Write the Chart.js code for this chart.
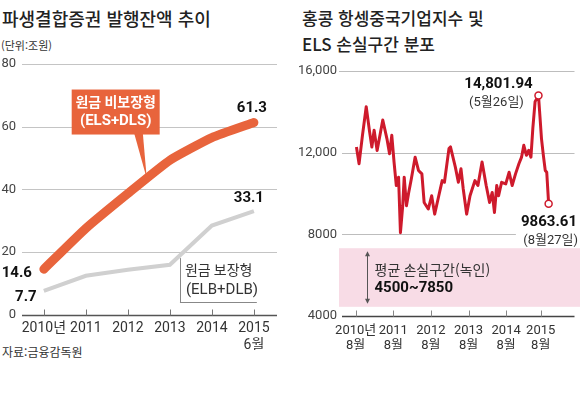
<!DOCTYPE html>
<html lang="ko">
<head>
<meta charset="utf-8">
<script src="https://cdn.jsdelivr.net/npm/chart.js@4.4.1/dist/chart.umd.min.js"></script>
<style>
  html, body { margin: 0; padding: 0; background: #fff; }
  body { width: 580px; height: 408px; position: relative; overflow: hidden; font-family: "Noto Sans CJK KR", sans-serif; color: #222; }
  .txt { position: absolute; white-space: nowrap; }
  canvas { position: absolute; }
</style>
</head>
<body>
<div class="txt" style="left:2px;top:5px;font-size:18px;font-weight:500;">파생결합증권 발행잔액 추이</div>
<div class="txt" style="left:1px;top:37px;font-size:11px;color:#333;">(단위:조원)</div>
<div class="txt" style="left:2px;top:343px;font-size:12px;color:#333;">자료:금융감독원</div>
<div class="txt" style="left:302px;top:5px;font-size:17px;font-weight:500;line-height:26px;">홍콩 항셍중국기업지수 및<br>ELS 손실구간 분포</div>
<canvas id="chartL" width="290" height="300" style="left:0;top:50px;"></canvas>
<canvas id="chartR" width="290" height="300" style="left:290px;top:50px;"></canvas>
<script>
// 왼쪽: 파생결합증권 발행잔액 (조원)
const YEARS = ['2010년', '2011', '2012', '2013', '2014', ['2015', '6월']];
const NON_PROTECTED = [14.6, 27.6, 38.7, 49.3, 56.5, 61.3];   // 원금 비보장형 (ELS+DLS)
const PROTECTED = [7.7, 12.5, 14.4, 16.0, 28.5, 33.1];        // 원금 보장형 (ELB+DLB)

// 오른쪽: 홍콩 항셍중국기업지수 (연 단위 소수)
const HSCEI_X = [
  2010.62, 2010.69, 2010.78, 2010.88, 2010.97, 2011.03, 2011.09, 2011.17, 2011.32, 2011.43,
  2011.50, 2011.56, 2011.62, 2011.68, 2011.74, 2011.79, 2011.85, 2011.89, 2011.95, 2012.01,
  2012.08, 2012.18, 2012.27, 2012.36, 2012.42, 2012.53, 2012.62, 2012.70, 2012.79, 2012.90,
  2012.96, 2013.08, 2013.12, 2013.25, 2013.33, 2013.40, 2013.46, 2013.55, 2013.64, 2013.77,
  2013.85, 2013.96, 2014.07, 2014.16, 2014.23, 2014.29, 2014.35, 2014.40, 2014.48, 2014.59,
  2014.68, 2014.76, 2014.85, 2014.94, 2015.01, 2015.07, 2015.14, 2015.20, 2015.26, 2015.31,
  2015.37, 2015.46, 2015.50, 2015.54, 2015.59, 2015.64, 2015.68, 2015.73
];
const HSCEI_Y = [
  12280, 11460, 12850, 14250, 13020, 12280, 13100, 12110, 13600, 12690,
  11950, 12850, 11540, 10390, 10800, 8080, 9400, 10800, 9400, 10050,
  10720, 11780, 11130, 10960, 9560, 9240, 9890, 8990, 9730, 10630,
  10550, 12200, 12280, 11290, 10550, 11210, 10220, 8990, 9890, 10630,
  10390, 11540, 10390, 9560, 10050, 9070, 10390, 9890, 10550, 10470,
  11040, 10390, 10960, 11460, 11780, 12360, 11870, 12110, 11780, 13190,
  14500, 14802, 13760, 12690, 11870, 11130, 11040, 9500
];
const X_TICKS_R = [2010.6, 2011.6, 2012.6, 2013.6, 2014.6, 2015.52];
const X_LABELS_R = [['2010년', '8월'], ['2011', '8월'], ['2012', '8월'], ['2013', '8월'], ['2014', '8월'], ['2015', '8월']];
const Y_TICKS_R = [4000, 8000, 12000, 16000];
const KNOCK_IN_BAND = [4450, 7320];  // 분홍 띠 (평균 손실구간)
const PEAK_IDX = HSCEI_Y.indexOf(Math.max(...HSCEI_Y));
const LAST_IDX = HSCEI_Y.length - 1;

const FONT = '"Liberation Sans Narrow", Roboto, "Noto Sans CJK KR", sans-serif';
const KFONT = '"Noto Sans CJK KR", sans-serif';
const ORANGE = '#E8643C';
const GREY_LINE = '#D0D0D0';
const RED = '#CE1A2C';

function line(ctx, x1, y1, x2, y2) {
  ctx.beginPath(); ctx.moveTo(x1, y1); ctx.lineTo(x2, y2); ctx.stroke();
}
function text(ctx, s, x, y, font, color, align) {
  ctx.font = font; ctx.fillStyle = color; ctx.textAlign = align || 'center'; ctx.textBaseline = 'middle';
  ctx.fillText(s, x, y);
}

const leftDecor = {
  id: 'leftDecor',
  beforeDatasetsDraw(chart) {
    const { ctx, chartArea: { left, right }, scales: { x, y } } = chart;
    ctx.save();
    ctx.strokeStyle = '#c4c4c4'; ctx.lineWidth = 1;
    [20, 40, 60, 80].forEach(v => {
      const py = Math.round(y.getPixelForValue(v)) + 0.5;
      line(ctx, left, py, right, py);
    });
    const y0 = Math.round(y.getPixelForValue(0)) + 0.5;
    ctx.strokeStyle = '#555'; ctx.lineWidth = 1.4;
    line(ctx, left, y0, right, y0);
    ctx.lineWidth = 1; ctx.strokeStyle = '#777';
    YEARS.forEach((_, i) => {
      const px = Math.round(x.getPixelForValue(i)) + 0.5;
      line(ctx, px, y0 - 6, px, y0);
    });
    ctx.restore();
  },
  afterDatasetsDraw(chart) {
    const { ctx, scales: { x, y } } = chart;
    ctx.save();
    const n = YEARS.length - 1;
    const bold = '700 15px ' + FONT;
    // 값 라벨
    text(ctx, NON_PROTECTED[n].toFixed(1), x.getPixelForValue(n) - 2, y.getPixelForValue(NON_PROTECTED[n]) - 14, bold, '#111');
    text(ctx, PROTECTED[n].toFixed(1), x.getPixelForValue(n) - 5, y.getPixelForValue(PROTECTED[n]) - 13, bold, '#111');
    text(ctx, NON_PROTECTED[0].toFixed(1), x.getPixelForValue(0) - 27, y.getPixelForValue(NON_PROTECTED[0]) + 4, bold, '#111');
    text(ctx, PROTECTED[0].toFixed(1), x.getPixelForValue(0) - 18, y.getPixelForValue(PROTECTED[0]) + 6, bold, '#111');

    // 원금 비보장형 말풍선
    const bx = x.getPixelForValue(1.71), by = y.getPixelForValue(64.8);
    const tipX = x.getPixelForValue(2.45), tipY = y.getPixelForValue(43.5);
    ctx.fillStyle = ORANGE;
    ctx.beginPath();
    ctx.moveTo(bx + 18, by + 20); ctx.lineTo(tipX, tipY); ctx.lineTo(bx + 27, by + 20);
    ctx.closePath(); ctx.fill();
    ctx.fillRect(bx - 44, by - 22, 88, 45);
    text(ctx, '원금 비보장형', bx, by - 10, '700 14px ' + KFONT, '#fff');
    text(ctx, '(ELS+DLS)', bx, by + 10, '700 15px ' + FONT, '#fff');

    // 원금 보장형 라벨
    const gx = x.getPixelForValue(3.24), gy = y.getPixelForValue(4.1), gr = x.getPixelForValue(5.07);
    ctx.strokeStyle = '#888'; ctx.lineWidth = 1;
    line(ctx, Math.round(gx) + 0.5, gy - 44, Math.round(gx) + 0.5, gy);
    line(ctx, gx, Math.round(gy) + 0.5, gr, Math.round(gy) + 0.5);
    text(ctx, '원금 보장형', gx + 5, gy - 32, '400 14px ' + KFONT, '#333', 'left');
    text(ctx, '(ELB+DLB)', gx + 6, gy - 12, '400 15px ' + FONT, '#333', 'left');
    ctx.restore();
  }
};

const rightDecor = {
  id: 'rightDecor',
  beforeDatasetsDraw(chart) {
    const { ctx, chartArea: { left, right }, scales: { x, y } } = chart;
    ctx.save();
    // 손실구간 띠
    const bTop = y.getPixelForValue(KNOCK_IN_BAND[1]), bBot = y.getPixelForValue(KNOCK_IN_BAND[0]);
    ctx.fillStyle = '#F8DCE6';
    ctx.fillRect(left - 3, bTop, chart.width - left + 3, bBot - bTop);
    // 격자
    ctx.strokeStyle = '#bdbdbd'; ctx.lineWidth = 1;
    const g = v => Math.round(y.getPixelForValue(v)) + 0.5;
    line(ctx, left - 3, g(16000), right, g(16000));
    line(ctx, left, g(12000), right, g(12000));
    line(ctx, left, g(8000), x.getPixelForValue(2014.86), g(8000));
    const y0 = g(4000);
    ctx.strokeStyle = '#444'; ctx.lineWidth = 1.4;
    line(ctx, left, y0, right, y0);
    ctx.lineWidth = 1; ctx.strokeStyle = '#888';
    X_TICKS_R.forEach(v => {
      const px = Math.round(x.getPixelForValue(v)) + 0.5;
      line(ctx, px, y0 - 6, px, y0);
    });
    // 양방향 화살표
    const ax = Math.round(x.getPixelForValue(2010.91)) + 0.5;
    const a1 = bTop + 3, a2 = bBot - 3;
    ctx.strokeStyle = '#555'; ctx.fillStyle = '#555';
    line(ctx, ax, a1 + 3, ax, a2 - 3);
    ctx.beginPath(); ctx.moveTo(ax, a1); ctx.lineTo(ax - 2.5, a1 + 5); ctx.lineTo(ax + 2.5, a1 + 5); ctx.fill();
    ctx.beginPath(); ctx.moveTo(ax, a2); ctx.lineTo(ax - 2.5, a2 - 5); ctx.lineTo(ax + 2.5, a2 - 5); ctx.fill();
    text(ctx, '평균 손실구간(녹인)', ax + 7, bTop + 21, '400 14px ' + KFONT, '#333', 'left');
    text(ctx, '4500~7850', ax + 7, bTop + 40, '700 15px ' + FONT, '#111', 'left');
    ctx.restore();
  },
  afterDatasetsDraw(chart) {
    const { ctx, scales: { x, y } } = chart;
    ctx.save();
    const px = x.getPixelForValue(HSCEI_X[PEAK_IDX]), py = y.getPixelForValue(HSCEI_Y[PEAK_IDX]);
    text(ctx, '14,801.94', px - 40, py - 11, '700 15px ' + FONT, '#111');
    text(ctx, '(5월26일)', px - 42, py + 7, '400 13px ' + FONT, '#333');
    const ly = y.getPixelForValue(HSCEI_Y[LAST_IDX]);
    text(ctx, '9863.61', chart.width - 3, ly + 19, '700 15px ' + FONT, '#111', 'right');
    text(ctx, '(8월27일)', chart.width - 2, ly + 37, '400 13px ' + FONT, '#333', 'right');
    ctx.restore();
  }
};

new Chart(document.getElementById('chartL'), {
  type: 'line',
  data: {
    datasets: [
      {
        data: PROTECTED.map((v, i) => ({ x: i, y: v })),
        borderColor: GREY_LINE, borderWidth: 4, pointRadius: 0, tension: 0
      },
      {
        data: NON_PROTECTED.map((v, i) => ({ x: i, y: v })),
        borderColor: ORANGE, borderWidth: 9, pointRadius: 0, tension: 0.15,
        borderCapStyle: 'round', borderJoinStyle: 'round'
      }
    ]
  },
  options: {
    responsive: false, animation: false, events: [],
    layout: { padding: { top: 12, right: 13, left: 0, bottom: 0 } },
    plugins: { legend: { display: false }, tooltip: { enabled: false } },
    scales: {
      x: {
        type: 'linear', min: -0.52, max: 5.55,
        grid: { display: false, drawTicks: false }, border: { display: false },
        afterBuildTicks: s => { s.ticks = YEARS.map((_, i) => ({ value: i })); },
        afterFit: s => { s.height = 35; },
        ticks: {
          padding: 5, maxRotation: 0, autoSkip: false, color: '#333',
          font: { family: FONT, size: 14, lineHeight: 1.2 },
          callback: (v, i) => YEARS[i]
        }
      },
      y: {
        min: 0, max: 80,
        grid: { display: false, drawTicks: false }, border: { display: false },
        afterFit: s => { s.width = 22; },
        ticks: { stepSize: 20, padding: 6, color: '#444', font: { family: FONT, size: 13 } }
      }
    }
  },
  plugins: [leftDecor]
});

new Chart(document.getElementById('chartR'), {
  type: 'line',
  data: {
    datasets: [{
      data: HSCEI_X.map((v, i) => ({ x: v, y: HSCEI_Y[i] })),
      borderColor: RED, borderWidth: 3, tension: 0, borderJoinStyle: 'round',
      pointRadius: c => (c.dataIndex === PEAK_IDX || c.dataIndex === LAST_IDX) ? 3.5 : 0,
      pointBackgroundColor: '#fff', pointBorderColor: RED, pointBorderWidth: 1.5
    }]
  },
  options: {
    responsive: false, animation: false, events: [],
    layout: { padding: { top: 21, right: 0, left: 0, bottom: 0 } },
    plugins: { legend: { display: false }, tooltip: { enabled: false } },
    scales: {
      x: {
        type: 'linear', min: 2010.236, max: 2016.418,
        grid: { display: false, drawTicks: false }, border: { display: false },
        afterBuildTicks: s => { s.ticks = X_TICKS_R.map(v => ({ value: v })); },
        afterFit: s => { s.height = 34; },
        ticks: {
          padding: 7, maxRotation: 0, autoSkip: false, color: '#333',
          font: { family: FONT, size: 13, lineHeight: 1.15 },
          callback: (v, i) => X_LABELS_R[i]
        }
      },
      y: {
        min: 4000, max: 16000,
        grid: { display: false, drawTicks: false }, border: { display: false },
        afterBuildTicks: s => { s.ticks = Y_TICKS_R.map(v => ({ value: v })); },
        afterFit: s => { s.width = 52; },
        ticks: {
          padding: 5, color: '#444', font: { family: FONT, size: 13 },
          callback: v => v >= 10000 ? v.toLocaleString('en-US') : String(v)
        }
      }
    }
  },
  plugins: [rightDecor]
});
</script>
</body>
</html>
